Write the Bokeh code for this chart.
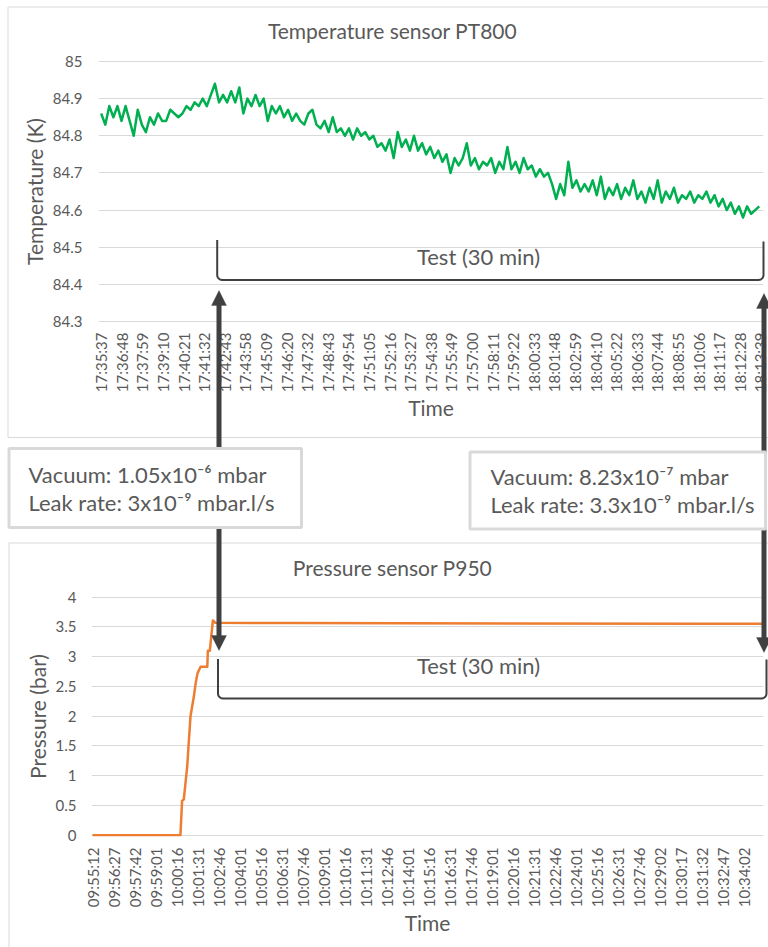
import math
from bokeh.plotting import figure
from bokeh.models import Range1d, FixedTicker, Label, BoxAnnotation, PolyAnnotation, GridBox
from bokeh.embed import file_html
from bokeh.resources import INLINE

FONT = "Lato"
TXT = "#595959"
GRID = "#D9D9D9"
DARK = "#404040"

# ---------------- data ----------------
temp_title = "Temperature sensor PT800"
temp_time_labels = ["17:35:37", "17:36:48", "17:37:59", "17:39:10", "17:40:21", "17:41:32",
                    "17:42:43", "17:43:58", "17:45:09", "17:46:20", "17:47:32", "17:48:43",
                    "17:49:54", "17:51:05", "17:52:16", "17:53:27", "17:54:38", "17:55:49",
                    "17:57:00", "17:58:11", "17:59:22", "18:00:33", "18:01:48", "18:02:59",
                    "18:04:10", "18:05:22", "18:06:33", "18:07:44", "18:08:55", "18:10:06",
                    "18:11:17", "18:12:28", "18:13:39"]
temp_samples_per_label = 71
temp_sample_step = 14
temp_values = [
    84.86, 84.83, 84.88, 84.85, 84.88, 84.84, 84.88, 84.84, 84.80, 84.87,
    84.83, 84.81, 84.85, 84.83, 84.86, 84.84, 84.84, 84.87, 84.86, 84.85,
    84.86, 84.88, 84.87, 84.89, 84.88, 84.90, 84.88, 84.91, 84.94, 84.89,
    84.91, 84.89, 84.92, 84.89, 84.93, 84.86, 84.90, 84.88, 84.91, 84.88,
    84.90, 84.84, 84.88, 84.86, 84.88, 84.85, 84.87, 84.84, 84.86, 84.84,
    84.83, 84.86, 84.87, 84.83, 84.82, 84.84, 84.81, 84.85, 84.81, 84.82,
    84.80, 84.82, 84.79, 84.82, 84.80, 84.81, 84.79, 84.80, 84.77, 84.78,
    84.76, 84.79, 84.74, 84.81, 84.77, 84.79, 84.76, 84.80, 84.76, 84.78,
    84.75, 84.77, 84.74, 84.76, 84.73, 84.75, 84.70, 84.74, 84.72, 84.74,
    84.78, 84.72, 84.74, 84.71, 84.73, 84.72, 84.74, 84.70, 84.73, 84.71,
    84.77, 84.71, 84.73, 84.70, 84.74, 84.71, 84.72, 84.69, 84.71, 84.69,
    84.70, 84.67, 84.63, 84.67, 84.64, 84.73, 84.66, 84.68, 84.65, 84.67,
    84.65, 84.68, 84.64, 84.69, 84.63, 84.66, 84.64, 84.67, 84.63, 84.66,
    84.64, 84.68, 84.63, 84.65, 84.62, 84.66, 84.63, 84.68, 84.62, 84.65,
    84.63, 84.66, 84.62, 84.64, 84.63, 84.65, 84.62, 84.64, 84.63, 84.65,
    84.62, 84.64, 84.61, 84.63, 84.60, 84.62, 84.59, 84.61, 84.58, 84.61,
    84.59, 84.60, 84.61]
temp_ticks = [84.3, 84.4, 84.5, 84.6, 84.7, 84.8, 84.9, 85]
temp_tick_labels = ["84.3", "84.4", "84.5", "84.6", "84.7", "84.8", "84.9", "85"]

press_title = "Pressure sensor P950"
press_time_labels = ["09:55:12", "09:56:27", "09:57:42", "09:59:01", "10:00:16", "10:01:31",
                     "10:02:46", "10:04:01", "10:05:16", "10:06:31", "10:07:46", "10:09:01",
                     "10:10:16", "10:11:31", "10:12:46", "10:14:01", "10:15:16", "10:16:31",
                     "10:17:46", "10:19:01", "10:20:16", "10:21:31", "10:22:46", "10:24:01",
                     "10:25:16", "10:26:31", "10:27:46", "10:29:02", "10:30:17", "10:31:32",
                     "10:32:47", "10:34:02"]
press_samples_per_label = 75
press_sample_index = [0, 314, 320, 326, 338, 350, 362, 368, 375, 386, 410, 412, 419, 430, 439, 707, 2161, 2396]
press_values = [0, 0, 0.58, 0.6, 1.14, 2.0, 2.33, 2.54, 2.72, 2.83, 2.83, 3.1, 3.1, 3.61, 3.57, 3.565, 3.555, 3.555]
press_ticks = [0, 0.5, 1, 1.5, 2, 2.5, 3, 3.5, 4]
press_tick_labels = ["0", "0.5", "1", "1.5", "2", "2.5", "3", "3.5", "4"]

test_text = "Test (30 min)"
left_box_lines = ["Vacuum: 1.05x10\u207b\u2076 mbar", "Leak rate: 3x10\u207b\u2079 mbar.l/s"]
right_box_lines = ["Vacuum: 8.23x10\u207b\u2077 mbar", "Leak rate: 3.3x10\u207b\u2079 mbar.l/s"]


# ---------------- helpers ----------------
def lin(p0, d0, p1, d1):
    k = (d1 - d0) / (p1 - p0)
    return lambda p: d0 + (p - p0) * k


def style_axes(p, labels, step, yticks, ylabels, ytitle, ystand, xstand):
    ticks = [step * k for k in range(len(labels))]
    p.xaxis.ticker = FixedTicker(ticks=ticks)
    p.xaxis.major_label_overrides = {t: s for t, s in zip(ticks, labels)}
    p.xaxis.major_label_orientation = math.pi / 2
    p.xaxis.major_label_standoff = xstand
    p.xaxis.axis_label = "Time"
    p.xaxis.axis_label_standoff = 0
    p.yaxis.ticker = FixedTicker(ticks=yticks)
    p.yaxis.major_label_overrides = {t: s for t, s in zip(yticks, ylabels)}
    p.yaxis.major_label_standoff = ystand
    p.yaxis.axis_label = ytitle
    p.yaxis.axis_label_standoff = 3
    for ax in (p.xaxis, p.yaxis):
        ax.axis_line_color = None
        ax.major_tick_line_color = None
        ax.minor_tick_line_color = None
        ax.major_tick_out = 0
        ax.major_tick_in = 0
        ax.minor_tick_out = 0
        ax.major_label_text_font = FONT
        ax.major_label_text_font_size = "15px"
        ax.major_label_text_color = TXT
        ax.axis_label_text_font = FONT
        ax.axis_label_text_font_size = "21px"
        ax.axis_label_text_font_style = "normal"
        ax.axis_label_text_color = TXT
    p.xgrid.visible = False
    p.ygrid.ticker = FixedTicker(ticks=yticks)
    p.ygrid.grid_line_color = GRID
    p.ygrid.grid_line_width = 1
    p.outline_line_color = None


# ---------------- top chart (page y 0..540) ----------------
tx = lin(100.7, 0, 100.7 + 32 * 20.6, 32 * temp_samples_per_label)
ty = lin(321, 84.3, 61, 85.0)

p1 = figure(width=768, height=540, x_range=Range1d(tx(98), tx(763)), y_range=Range1d(ty(322), ty(60)),
            output_backend="svg", toolbar_location=None, frame_align=False,
            min_border_left=98, min_border_right=5, min_border_top=60, min_border_bottom=218)
style_axes(p1, temp_time_labels, temp_samples_per_label, temp_ticks, temp_tick_labels,
           "Temperature (K)", 16, 10)
p1.line([temp_sample_step * i for i in range(len(temp_values))], temp_values,
        line_color="#00B050", line_width=2.5, line_join="round")

# ---------------- bottom chart (page y 540..947) ----------------
bxm = lin(92, 0, 92 + 31 * 21, 31 * press_samples_per_label)
bym = lin(834.7 - 540, 0, 596.7 - 540, 4)

p2 = figure(width=768, height=407, x_range=Range1d(bxm(91), bxm(763)), y_range=Range1d(bym(296), bym(56)),
            output_backend="svg", toolbar_location=None, frame_align=False,
            min_border_left=91, min_border_right=5, min_border_top=56, min_border_bottom=111)
style_axes(p2, press_time_labels, press_samples_per_label, press_ticks, press_tick_labels,
           "Pressure (bar)", 15, 11)
p2.line(press_sample_index, press_values, line_color="#ED7D31", line_width=2.5, line_join="round")

# ---------------- overlay: titles, brackets, arrows, info boxes (page pixels) ----------------
ov = figure(width=768, height=947, x_range=Range1d(0, 768), y_range=Range1d(947, 0),
            output_backend="svg", toolbar_location=None, frame_align=False,
            x_axis_type=None, y_axis_type=None, min_border=0,
            background_fill_color=None, border_fill_color=None, outline_line_color=None)


def rect(l, t, r, b, fill=None, line=None, lw=1):
    ov.add_layout(BoxAnnotation(left=l, right=r, top=t, bottom=b,
                                fill_color=fill if fill else "white", fill_alpha=1 if fill else 0,
                                line_color=line if line else "white", line_alpha=1 if line else 0,
                                line_width=lw))


def head(cx, base, tip, hw=7.5):
    ov.add_layout(PolyAnnotation(xs=[cx - hw, cx + hw, cx], ys=[base, base, tip],
                                 fill_color=DARK, fill_alpha=1, line_color=DARK, line_width=1))


def text(x, y, s, size, align="left"):
    ov.add_layout(Label(x=x, y=y, text=s, text_font=FONT, text_font_size=f"{size}px",
                        text_color=TXT, text_align=align, text_baseline="middle"))


def bracket(x0, x1, top0, top1, bottom, r=5):
    xs, ys = [x0, x0], [top0, bottom - r]
    for k in range(1, 7):
        a = math.pi / 2 * k / 6
        xs.append(x0 + r - r * math.cos(a)); ys.append(bottom - r + r * math.sin(a))
    xs.append(x1 - r); ys.append(bottom)
    for k in range(1, 7):
        a = math.pi / 2 * k / 6
        xs.append(x1 - r + r * math.sin(a)); ys.append(bottom - r + r * math.cos(a))
    xs.append(x1); ys.append(top1)
    ov.line(xs, ys, line_color=DARK, line_width=2, line_join="round")


# chart area borders
rect(7.5, 6.5, 800, 437, line=GRID)
rect(8.5, 542.5, 800, 990, line=GRID)

# test brackets
bracket(216.7, 763, 239.5, 241, 279.5)
bracket(217.5, 766, 658.5, 659, 698)

# double arrows
rect(216, 302, 221, 637, fill=DARK)
head(218.5, 305, 290)
head(218.5, 635, 650)
rect(761, 305, 766, 639, fill=DARK)
head(763.5, 308, 293)
head(763.5, 637, 652)

# info boxes
rect(8.5, 448, 301, 527, fill="white", line=GRID, lw=3)
rect(469.5, 451.5, 765, 528.5, fill="white", line=GRID, lw=3)

text(392, 30, temp_title, 21, "center")
text(392, 567, press_title, 21, "center")
text(478, 256, test_text, 22, "center")
text(478, 665, test_text, 22, "center")
text(28, 474, left_box_lines[0], 22)
text(28, 502, left_box_lines[1], 22)
text(490, 476, right_box_lines[0], 22)
text(490, 504, right_box_lines[1], 22)

layout = GridBox(children=[(p1, 0, 0), (p2, 1, 0), (ov, 0, 0, 2, 1)], spacing=0)
open("out.html", "w").write(file_html(layout, INLINE))
